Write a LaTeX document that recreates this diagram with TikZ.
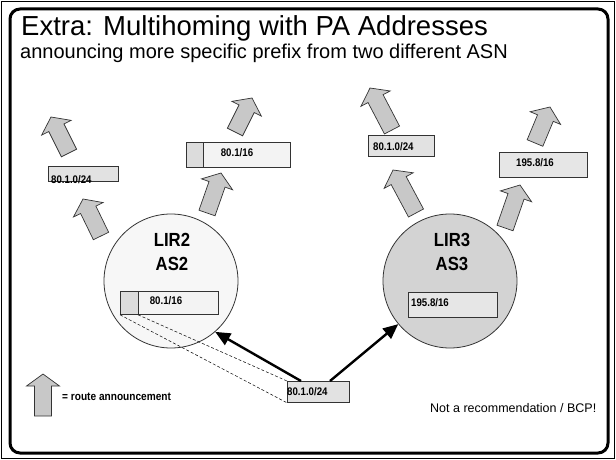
\documentclass[tikz,border=0pt]{standalone}
\usepackage{fontspec}
\setmainfont{Liberation Sans}
\newfontfamily\labelfont[FakeStretch=0.88]{Liberation Sans}
\usetikzlibrary{calc,arrows.meta}

\definecolor{arrowgray}{HTML}{C8C8C8}
\definecolor{edgegray}{HTML}{333333}
\definecolor{lirtwo}{HTML}{F7F7F7}
\definecolor{lirthree}{HTML}{D3D3D3}
\definecolor{palefill}{HTML}{F3F3F3}
\definecolor{segfill}{HTML}{DCDCDC}
\definecolor{pfxfill}{HTML}{E2E2E2}
\definecolor{dotfill}{HTML}{E6E6E6}

% gray block arrow for a route announcement: #1 = base centre, #2 = tip
\newcommand\routearrow[2]{%
  \path #1 coordinate (ra-b) #2 coordinate (ra-t);
  \coordinate (ra-h) at ($(ra-t)!12pt!(ra-b)$);
  \draw[announce]
    ($(ra-b)!8.5pt!90:(ra-t)$) -- ($(ra-h)!8.5pt!90:(ra-t)$) --
    ($(ra-h)!16.5pt!90:(ra-t)$) -- (ra-t) --
    ($(ra-h)!16.5pt!-90:(ra-t)$) -- ($(ra-h)!8.5pt!-90:(ra-t)$) --
    ($(ra-b)!8.5pt!-90:(ra-t)$) -- cycle;}

\begin{document}
\begin{tikzpicture}[x=1pt,y=-1pt,
  announce/.style={fill=arrowgray, draw=edgegray, line width=0.7pt, line join=miter},
  pfxbox/.style={draw=edgegray, line width=0.8pt, anchor=north west, inner sep=0pt},
  lbl/.style={font=\labelfont\bfseries\fontsize{11}{13}\selectfont, inner sep=0pt},
  asname/.style={font=\labelfont\bfseries\fontsize{19}{23}\selectfont, inner sep=0pt},
  lir/.style={circle, draw=edgegray, line width=0.8pt, minimum size=134pt, inner sep=0pt},
  boldlink/.style={line width=2.4pt, -{Triangle[length=15pt,width=13pt]}},
  zoomline/.style={line width=0.5pt, dash pattern=on 3pt off 2pt}]

\useasboundingbox (0,0) rectangle (616,460);

% frames
\draw[line width=0.8pt] (1.5,1.5) rectangle (614.5,458.5);
\draw[line width=3pt, rounded corners=10pt] (10,9) rectangle (608,453);

% headings
\node[anchor=base west, inner sep=0pt, font=\fontsize{27.5}{32}\selectfont] (title) at (21,36) {Extra: Multihoming with PA Addresses};
\node[anchor=base west, inner sep=0pt, font=\fontsize{20}{24}\selectfont] (subtitle) at (20,59) {announcing more specific prefix from two different ASN};

% route announcements
\routearrow{(69,153)}{(51,117)}
\routearrow{(101,236)}{(83,199)}
\routearrow{(235,132)}{(252,98)}
\routearrow{(207,213)}{(221,173)}
\routearrow{(392,130)}{(370,88)}
\routearrow{(416,213)}{(393,170)}
\routearrow{(535,143)}{(550,107)}
\routearrow{(505,228)}{(520,185)}

% announced prefixes
\node[pfxbox, fill=pfxfill, minimum width=70pt, minimum height=15pt] (annL) at (48,166) {};
\node[lbl, anchor=base west] at (51,183) {80.1.0/24};

\node[pfxbox, fill=palefill, minimum width=104pt, minimum height=25pt] (annM) at (186,142) {};
\fill[segfill] (annM.north west) rectangle ([xshift=17pt]annM.south west);
\draw[edgegray, line width=0.8pt] ([xshift=17pt]annM.north west) -- ([xshift=17pt]annM.south west);
\draw[edgegray, line width=0.8pt] (annM.north west) rectangle (annM.south east);
\node[lbl] at (237,153) {80.1/16};

\node[pfxbox, fill=pfxfill, minimum width=66pt, minimum height=21pt] (annR) at (368,135) {};
\node[lbl, anchor=west] at (373,146.5) {80.1.0/24};

\node[pfxbox, fill=dotfill, minimum width=88pt, minimum height=25pt] (ann3) at (499,152) {};
\node[lbl] at (535,162.5) {195.8/16};

% the two LIRs
\node[lir, fill=lirtwo] (lir2) at (171,281) {};
\node[asname] at (172,240) {LIR2};
\node[asname] at (172,264) {AS2};
\node[pfxbox, fill=palefill, minimum width=98pt, minimum height=23pt] (pa2) at (120,291) {};
\fill[segfill] (pa2.north west) rectangle ([xshift=18pt]pa2.south west);
\draw[edgegray, line width=0.8pt] ([xshift=18pt]pa2.north west) -- ([xshift=18pt]pa2.south west);
\draw[edgegray, line width=0.8pt] (pa2.north west) rectangle (pa2.south east);
\node[lbl] at (166,300.5) {80.1/16};

\node[lir, fill=lirthree] (lir3) at (450,281) {};
\node[asname] at (452,240) {LIR3};
\node[asname] at (452,264) {AS3};
\node[pfxbox, fill=dotfill, minimum width=89pt, minimum height=25pt] (pa3) at (408,292) {};
\node[lbl, anchor=west] at (411,302.5) {195.8/16};

% the more specific prefix of the customer
\node[pfxbox, fill=pfxfill, minimum width=62pt, minimum height=21pt] (cust) at (287,381) {};
\node[lbl, anchor=west] at (287,391.5) {80.1.0/24};

\draw[zoomline] (pa2.south west) -- (cust.south west);
\draw[zoomline] ([xshift=18pt]pa2.south west) -- (cust.north west);

\draw[boldlink] ([xshift=14pt]cust.north west) -- (lir2.-49);
\draw[boldlink] ([xshift=43pt]cust.north west) -- (lir3);

% legend and note
\routearrow{(43,416)}{(43,374)}
\node[lbl, anchor=west, font=\labelfont\bfseries\fontsize{11.5}{13}\selectfont] (legend) at (62,397) {= route announcement};
\node[anchor=west, inner sep=0pt, font=\fontsize{12.5}{15}\selectfont] (note) at (430,408) {Not a recommendation / BCP!};

\end{tikzpicture}
\end{document}
